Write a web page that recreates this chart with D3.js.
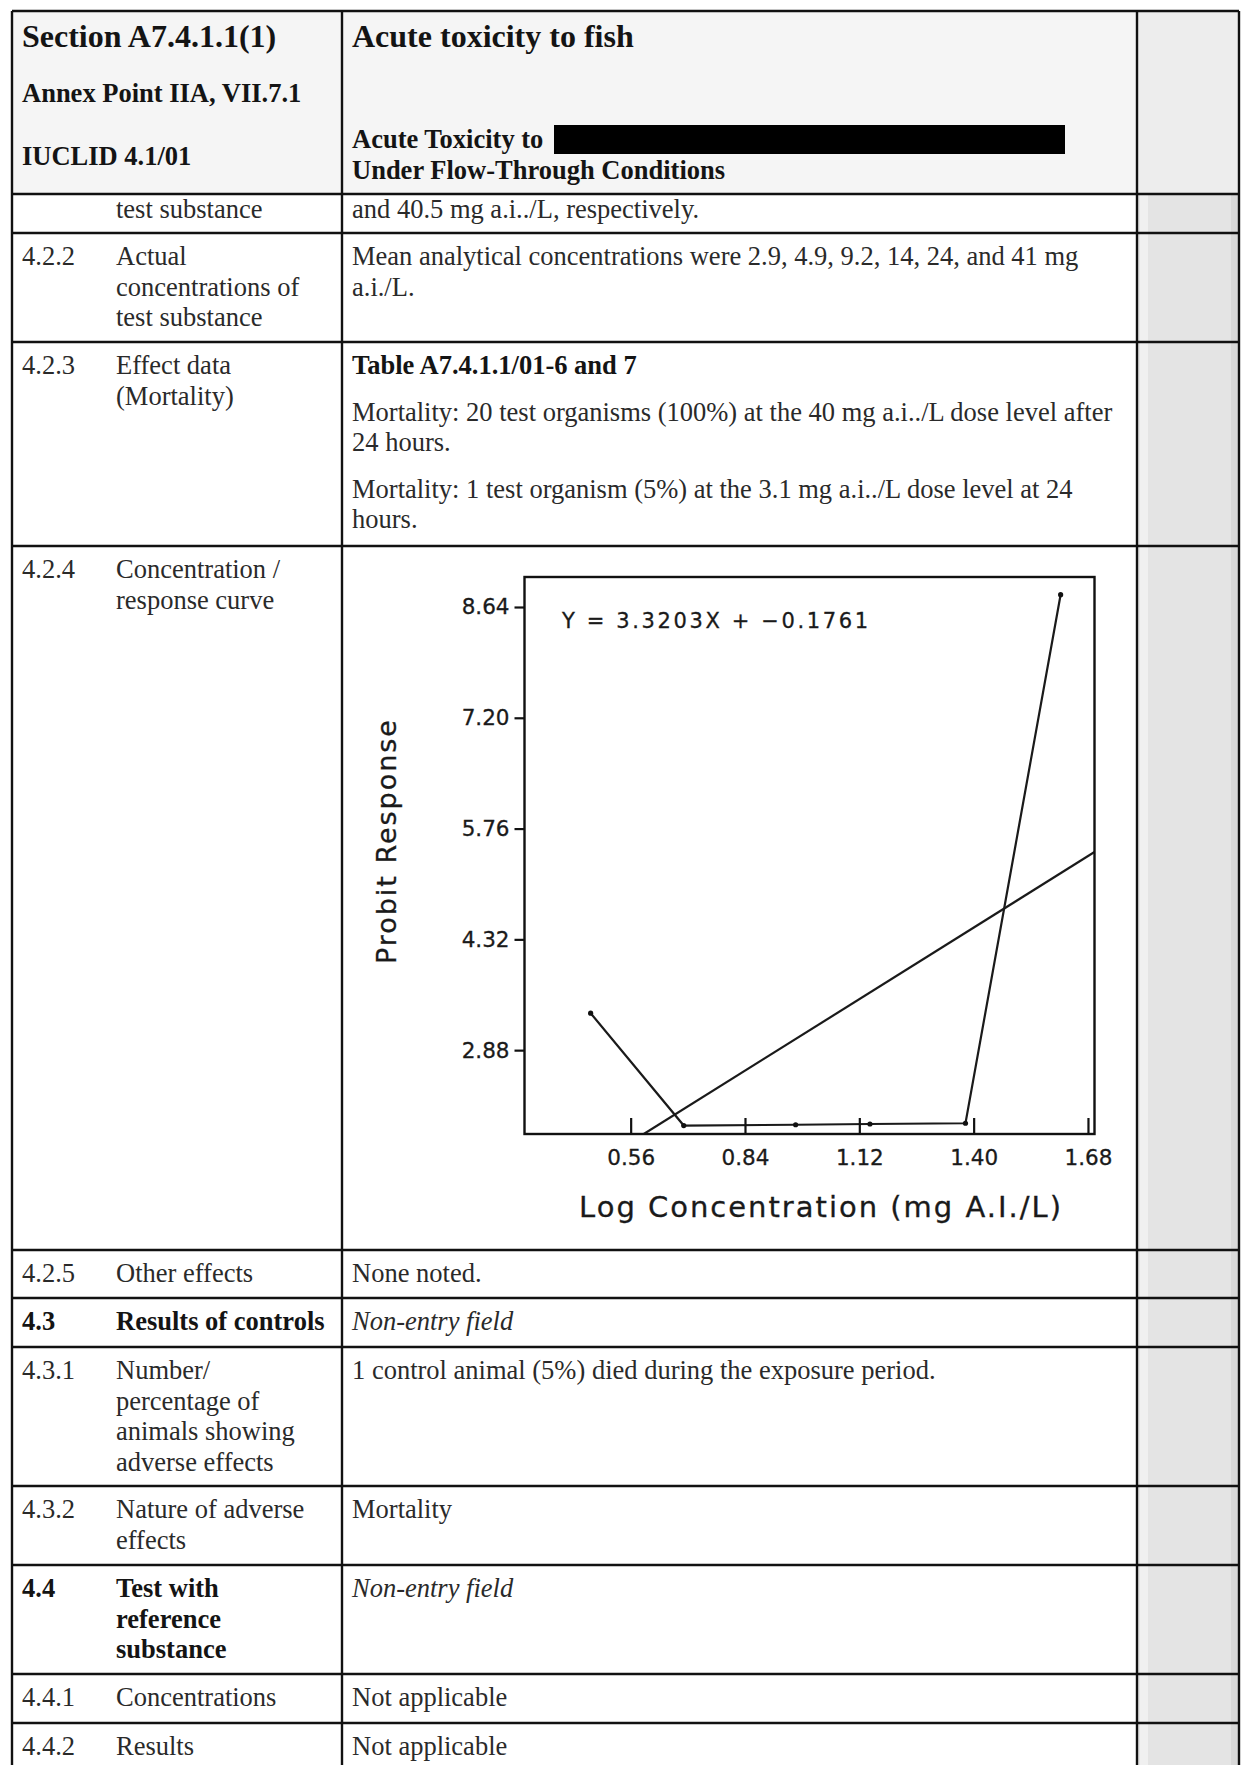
<!DOCTYPE html>
<html>
<head>
<meta charset="utf-8">
<script src="https://cdn.jsdelivr.net/npm/d3@7"></script>
<style>
  body { margin: 0; background: #fff; }
  svg { display: block; }
</style>
</head>
<body>
<svg id="page" width="1243" height="1765"></svg>
<script>
// ---- Concentration / response data (log10 mean measured conc. vs probit of mortality)
const logConc = [0.462, 0.690, 0.964, 1.146, 1.380, 1.613];
const probit  = [3.36, 1.90, 1.91, 1.92, 1.93, 8.80];
const xTicks  = [0.56, 0.84, 1.12, 1.40, 1.68];
const yTicks  = [2.88, 4.32, 5.76, 7.20, 8.64];
const slope = 3.3203;
const intercept = -0.1761;
const xDomain = [0.30, 1.696];
const yDomain = [1.79, 9.03];

// ---- Table content
const headerLeft  = ["Section A7.4.1.1(1)", "Annex Point IIA, VII.7.1", "IUCLID 4.1/01"];
const headerRight = ["Acute toxicity to fish", "Acute Toxicity to", "Under Flow-Through Conditions"];
const rows = [
  { num: "", label: ["test substance"], content: [{ t: "and 40.5 mg a.i../L, respectively." }] },
  { num: "4.2.2", label: ["Actual", "concentrations of", "test substance"],
    content: [{ t: "Mean analytical concentrations were 2.9, 4.9, 9.2, 14, 24, and 41 mg" }, { t: "a.i./L." }] },
  { num: "4.2.3", label: ["Effect data", "(Mortality)"],
    content: [{ t: "Table A7.4.1.1/01-6 and 7", b: true },
              { t: "Mortality: 20 test organisms (100%) at the 40 mg a.i../L dose level after", gap: true },
              { t: "24 hours." },
              { t: "Mortality: 1 test organism (5%) at the 3.1 mg a.i../L dose level at 24", gap: true },
              { t: "hours." }] },
  { num: "4.2.4", label: ["Concentration /", "response curve"], content: [], chart: true },
  { num: "4.2.5", label: ["Other effects"], content: [{ t: "None noted." }] },
  { num: "4.3", bold: true, label: ["Results of controls"], content: [{ t: "Non-entry field", i: true }] },
  { num: "4.3.1", label: ["Number/", "percentage of", "animals showing", "adverse effects"],
    content: [{ t: "1 control animal (5%) died during the exposure period." }] },
  { num: "4.3.2", label: ["Nature of adverse", "effects"], content: [{ t: "Mortality" }] },
  { num: "4.4", bold: true, label: ["Test with", "reference", "substance"], content: [{ t: "Non-entry field", i: true }] },
  { num: "4.4.1", label: ["Concentrations"], content: [{ t: "Not applicable" }] },
  { num: "4.4.2", label: ["Results"], content: [{ t: "Not applicable" }] }
];

// ---- Page geometry
const W = 1243, H = 1765;
const colX = [12, 342, 1137, 1239];
const rowTops = [11, 194, 233, 342, 546, 1250, 1298, 1347, 1486, 1565, 1674, 1723];
const serif = "'Liberation Serif', 'Times New Roman', serif";
const bodySize = 26.5, lineH = 30.5;

const svg = d3.select("#page");

// backgrounds
svg.append("rect").attr("x", colX[0]).attr("y", rowTops[0])
  .attr("width", colX[2] - colX[0]).attr("height", rowTops[1] - rowTops[0]).attr("fill", "#f5f5f5");
svg.append("rect").attr("x", colX[2]).attr("y", rowTops[0])
  .attr("width", colX[3] - colX[2]).attr("height", H - rowTops[0]).attr("fill", "#e4e4e4");
svg.append("rect").attr("x", colX[2] + 3).attr("y", rowTops[0])
  .attr("width", 8).attr("height", H - rowTops[0]).attr("fill", "#f0f0f0");
svg.append("rect").attr("x", colX[3] - 8).attr("y", rowTops[0])
  .attr("width", 8).attr("height", H - rowTops[0]).attr("fill", "#d8d8d8");
svg.append("rect").attr("x", colX[2]).attr("y", rowTops[0])
  .attr("width", colX[3] - colX[2]).attr("height", rowTops[1] - rowTops[0]).attr("fill", "#ededed");

// text helper
const txt = (x, y, s, opt = {}) => svg.append("text")
  .attr("x", x).attr("y", y)
  .attr("font-family", serif)
  .attr("font-size", opt.size || bodySize)
  .attr("font-weight", opt.b ? "bold" : "normal")
  .attr("font-style", opt.i ? "italic" : "normal")
  .attr("fill", opt.b ? "#141414" : "#2a2a2a")
  .text(s);

// header
txt(22, 47, headerLeft[0], { b: true, size: 32 });
txt(22, 102, headerLeft[1], { b: true });
txt(22, 165, headerLeft[2], { b: true });
txt(352, 47, headerRight[0], { b: true, size: 32 });
txt(352, 148, headerRight[1], { b: true });
txt(352, 179, headerRight[2], { b: true });
svg.append("rect").attr("x", 554).attr("y", 125).attr("width", 511).attr("height", 29).attr("fill", "#000");

// body rows
rows.forEach((r, i) => {
  const top = rowTops[i + 1];
  const first = top + (i === 0 ? 24 : 32);
  if (r.num) txt(22, first, r.num, { b: r.bold });
  r.label.forEach((l, k) => txt(116, first + k * lineH, l, { b: r.bold }));
  let y = first;
  r.content.forEach((c, k) => {
    if (k > 0) y += lineH + (c.gap ? 16 : 0);
    txt(352, y, c.t, { b: c.b, i: c.i });
  });
});

// grid lines
const grid = svg.append("g").attr("stroke", "#111").attr("stroke-width", 2.4);
rowTops.forEach(y => grid.append("line").attr("x1", colX[0]).attr("x2", colX[3]).attr("y1", y).attr("y2", y));
colX.forEach(x => grid.append("line").attr("x1", x).attr("x2", x).attr("y1", rowTops[0]).attr("y2", H));

// ---- Probit chart
const plot = { left: 524.5, right: 1094.5, top: 577, bottom: 1134 };
const x = d3.scaleLinear().domain(xDomain).range([plot.left, plot.right]);
const y = d3.scaleLinear().domain(yDomain).range([plot.bottom, plot.top]);
const sans = "'DejaVu Sans', sans-serif";
const ink = "#1a1a1a";
const chart = svg.append("g");

svg.append("clipPath").attr("id", "plotClip").append("rect")
  .attr("x", plot.left).attr("y", plot.top)
  .attr("width", plot.right - plot.left).attr("height", plot.bottom - plot.top);

// fitted regression line Y = slope*X + intercept
const xStart = (yDomain[0] - intercept) / slope;
const fit = [xStart, xDomain[1]].map(v => [v, slope * v + intercept]);
chart.append("path")
  .attr("clip-path", "url(#plotClip)")
  .attr("d", d3.line().x(d => x(d[0])).y(d => y(d[1]))(fit))
  .attr("fill", "none").attr("stroke", ink).attr("stroke-width", 2.2);

// observed probits
const obs = logConc.map((v, i) => [v, probit[i]]);
chart.append("path")
  .attr("d", d3.line().x(d => x(d[0])).y(d => y(d[1]))(obs))
  .attr("fill", "none").attr("stroke", ink).attr("stroke-width", 2.2);
chart.selectAll("circle.pt").data(obs).join("circle")
  .attr("class", "pt").attr("cx", d => x(d[0])).attr("cy", d => y(d[1]))
  .attr("r", 2.6).attr("fill", "#111");

// axes
const xAxis = chart.append("g").attr("transform", `translate(0,${plot.bottom})`)
  .call(d3.axisBottom(x).tickValues(xTicks).tickFormat(d3.format(".2f")).tickSizeInner(-16).tickSizeOuter(0).tickPadding(16));
const yAxis = chart.append("g").attr("transform", `translate(${plot.left},0)`)
  .call(d3.axisLeft(y).tickValues(yTicks).tickFormat(d3.format(".2f")).tickSizeInner(10).tickSizeOuter(0).tickPadding(5));
[xAxis, yAxis].forEach(a => {
  a.select(".domain").remove();
  a.selectAll(".tick line").attr("stroke", "#111").attr("stroke-width", 2.2);
  a.selectAll(".tick text").attr("font-family", sans).attr("font-size", 21.5)
    .attr("fill", ink).attr("stroke", ink).attr("stroke-width", 0.3);
});

// frame
chart.append("rect")
  .attr("x", plot.left).attr("y", plot.top)
  .attr("width", plot.right - plot.left).attr("height", plot.bottom - plot.top)
  .attr("fill", "none").attr("stroke", "#111").attr("stroke-width", 2.4);

// equation
chart.append("text")
  .attr("x", 562).attr("y", 628)
  .attr("font-family", sans).attr("font-size", 21).attr("fill", ink)
  .attr("stroke", ink).attr("stroke-width", 0.3)
  .attr("textLength", 306).attr("lengthAdjust", "spacing")
  .text(`Y =  ${slope.toFixed(4)}X + \u2212${Math.abs(intercept).toFixed(4)}`);

// axis titles
chart.append("text")
  .attr("transform", `translate(396,842) rotate(-90)`)
  .attr("text-anchor", "middle")
  .attr("font-family", sans).attr("font-size", 27).attr("fill", ink)
  .attr("stroke", ink).attr("stroke-width", 0.3)
  .attr("textLength", 244).attr("lengthAdjust", "spacing")
  .text("Probit Response");
chart.append("text")
  .attr("x", 820).attr("y", 1217)
  .attr("text-anchor", "middle")
  .attr("font-family", sans).attr("font-size", 29).attr("fill", ink)
  .attr("stroke", ink).attr("stroke-width", 0.3)
  .attr("textLength", 482).attr("lengthAdjust", "spacing")
  .text("Log Concentration (mg A.I./L)");
</script>
</body>
</html>
